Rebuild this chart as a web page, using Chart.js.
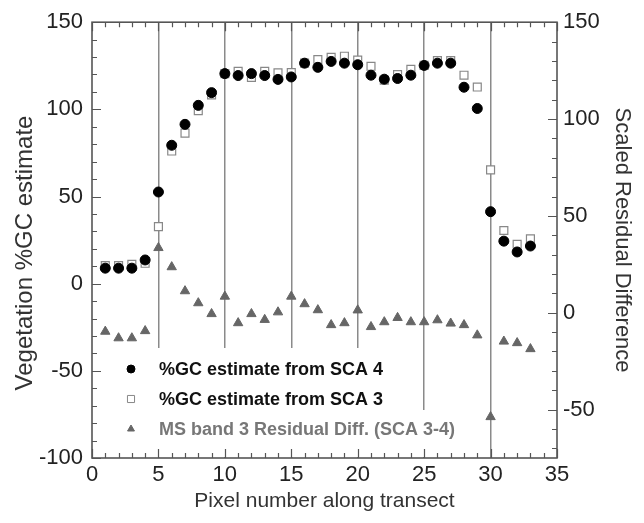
<!DOCTYPE html>
<html>
<head>
<meta charset="utf-8">
<script src="https://cdn.jsdelivr.net/npm/chart.js@4.4.1/dist/chart.umd.min.js"></script>
<style>
  html, body { margin:0; padding:0; background:#fff; }
  canvas { display:block; }
</style>
</head>
<body>
<canvas id="chart" width="644" height="523"></canvas>
<script>
// ─── Data ────────────────────────────────────────────────────────────────────
const pixelNo = [1,2,3,4,5,6,7,8,9,10,11,12,13,14,15,16,17,18,19,20,21,22,23,24,25,26,27,28,29,30,31,32,33];

// %GC estimate from SCA 4 (filled circles, left axis)
const gcSca4 = [8.9, 8.9, 8.9, 13.6, 52.6, 79.4, 91.4, 102.3, 109.6, 120.5, 119.4, 120.5, 119.4, 117.2, 118.6,
                126.5, 124.1, 127.5, 126.5, 125.6, 119.6, 117.3, 117.7, 119.6, 125.2, 126.5, 126.5, 112.7, 100.5,
                41.3, 24.4, 18.2, 21.6];

// %GC estimate from SCA 3 (open squares, left axis)
const gcSca3 = [10.4, 10.4, 11.1, 11.7, 32.7, 76.1, 86.4, 99.3, 108.3, 120.5, 121.8, 118.3, 121.8, 120.9, 121.1,
                126.5, 128.6, 129.9, 130.5, 128.3, 124.7, 116.8, 120.0, 123.0, 125.2, 128.0, 128.0, 119.6, 112.8,
                65.3, 30.5, 22.6, 25.7];

// MS band 3 residual difference (grey triangles, right axis)
const residDiff = [-9.7, -13.1, -13.1, -9.4, 33.5, 23.6, 11.2, 5.0, -0.6, 8.4, -5.3, -0.6, -3.6, 0.3, 8.4,
                   4.5, 1.4, -6.3, -5.3, 1.3, -7.3, -4.8, -2.6, -4.8, -4.8, -3.8, -5.5, -6.3, -11.6,
                   -53.8, -14.8, -15.6, -18.7];

const legendLabels = ['%GC estimate from SCA 4', '%GC estimate from SCA 3', 'MS band 3 Residual Diff. (SCA 3-4)'];
const leftTitle = 'Vegetation %GC estimate';

const FONT_FAMILY = '"Liberation Sans", Arial, Helvetica, sans-serif';
const AXIS_CLR = '#555';
const TICK_TXT = '#222';

const pts = (ys) => ys.map((y, i) => ({ x: pixelNo[i], y }));

// ─── Legend, inward ticks and frame ─────────────────────────────────────────
const decorPlugin = {
  id: 'decor',
  afterDatasetsDraw(chart) {
    const ctx = chart.ctx;
    // opaque legend background (hides the vertical lines behind the text)
    ctx.save();
    ctx.fillStyle = '#fff';
    ctx.fillRect(100, 348, 298, 109);
    ctx.fillRect(100, 410, 362, 47);

    const rows = [
      { y: 369, style: 'circle',   fill: '#000', stroke: '#000', txt: '#111' },
      { y: 399, style: 'rect',     fill: '#fff', stroke: '#888', txt: '#111' },
      { y: 429, style: 'triangle', fill: '#666', stroke: '#666', txt: '#777' },
    ];
    ctx.font = 'bold 18px ' + FONT_FAMILY;
    ctx.textBaseline = 'middle';
    ctx.textAlign = 'left';
    rows.forEach((r, i) => {
      ctx.fillStyle = r.fill;
      ctx.strokeStyle = r.stroke;
      ctx.lineWidth = 1;
      Chart.helpers.drawPoint(ctx, { pointStyle: r.style, radius: r.style === 'rect' ? 5 : 4, rotation: 0, borderWidth: 1 }, 131, r.y);
      ctx.fillStyle = r.txt;
      ctx.fillText(legendLabels[i], 159, r.y + 1);
    });
    ctx.restore();
  },
  afterDraw(chart) {
    const { ctx, chartArea: a, scales } = chart;
    ctx.save();
    ctx.strokeStyle = AXIS_CLR;
    ctx.lineWidth = 1.2;
    ctx.beginPath();
    // x ticks, bottom and top
    for (let v = 0; v <= 35; v++) {
      const px = Math.round(scales.x.getPixelForValue(v)) + 0.5;
      const len = v % 5 === 0 ? 9 : 5;
      ctx.moveTo(px, a.bottom); ctx.lineTo(px, a.bottom - len);
      ctx.moveTo(px, a.top);    ctx.lineTo(px, a.top + len);
    }
    // left y ticks
    for (let v = -100; v <= 150; v += 10) {
      const py = Math.round(scales.y.getPixelForValue(v)) + 0.5;
      const len = v % 50 === 0 ? 9 : 5;
      ctx.moveTo(a.left, py); ctx.lineTo(a.left + len, py);
    }
    // right y ticks
    for (let v = -70; v <= 150; v += 10) {
      const py = Math.round(scales.y2.getPixelForValue(v)) + 0.5;
      const len = v % 50 === 0 ? 9 : 5;
      ctx.moveTo(a.right, py); ctx.lineTo(a.right - len, py);
    }
    ctx.stroke();
    ctx.lineWidth = 1.6;
    ctx.strokeRect(a.left, a.top, a.right - a.left, a.bottom - a.top);

    // left axis title (sits a little below the plot centre in the original)
    ctx.translate(25, 253);
    ctx.rotate(-Math.PI / 2);
    ctx.font = '24px ' + FONT_FAMILY;
    ctx.fillStyle = '#333';
    ctx.textAlign = 'center';
    ctx.textBaseline = 'middle';
    ctx.fillText(leftTitle, 0, 0);
    ctx.restore();
  }
};

new Chart(document.getElementById('chart'), {
  type: 'scatter',
  data: {
    datasets: [
      { label: legendLabels[0], data: pts(gcSca4), yAxisID: 'y',
        pointStyle: 'circle', pointRadius: 5, pointHoverRadius: 5,
        backgroundColor: '#000', borderColor: '#000', borderWidth: 1 },
      { label: legendLabels[1], data: pts(gcSca3), yAxisID: 'y',
        pointStyle: 'rect', pointRadius: 5.6, pointHoverRadius: 5.6,
        backgroundColor: '#fff', borderColor: '#888', borderWidth: 1.2 },
      { label: legendLabels[2], data: pts(residDiff), yAxisID: 'y2',
        pointStyle: 'triangle', pointRadius: 5.4, pointHoverRadius: 5.4,
        backgroundColor: '#666', borderColor: '#666', borderWidth: 1 },
    ]
  },
  options: {
    responsive: false,
    animation: false,
    layout: { padding: 0 },
    plugins: { legend: { display: false }, tooltip: { enabled: false } },
    scales: {
      x: {
        type: 'linear', position: 'bottom', min: 0, max: 35,
        afterFit: (s) => { s.height = 65; },
        border: { display: false },
        grid: {
          drawTicks: false,
          color: (c) => (c.tick && (c.tick.value === 0 || c.tick.value === 35)) ? 'rgba(0,0,0,0)' : '#8a8a8a',
          lineWidth: 1.5
        },
        ticks: { stepSize: 5, padding: 4, color: TICK_TXT, font: { family: FONT_FAMILY, size: 22 } },
        title: { display: true, text: 'Pixel number along transect', color: '#333',
                 font: { family: FONT_FAMILY, size: 21 }, padding: { top: 0, bottom: 9 } }
      },
      xTop: {
        type: 'linear', position: 'top', min: 0, max: 35,
        afterFit: (s) => { s.height = 16; },
        border: { display: false }, grid: { display: false }, ticks: { display: false }
      },
      y: {
        type: 'linear', position: 'left', min: -100, max: 150,
        afterFit: (s) => { s.width = 92; },
        border: { display: false },
        grid: { display: false, drawTicks: false },
        ticks: { stepSize: 50, padding: 9, color: TICK_TXT, font: { family: FONT_FAMILY, size: 22 } }
      },
      y2: {
        type: 'linear', position: 'right', min: -75, max: 150,
        afterFit: (s) => { s.width = 87; },
        afterBuildTicks: (s) => { s.ticks = s.ticks.filter(t => t.value % 50 === 0); },
        border: { display: false },
        grid: { display: false, drawTicks: false },
        ticks: { stepSize: 50, includeBounds: false, padding: 6, color: TICK_TXT,
                 font: { family: FONT_FAMILY, size: 22 } },
        title: { display: true, text: 'Scaled Residual Difference', color: '#333',
                 font: { family: FONT_FAMILY, size: 22 }, padding: { top: 9, bottom: 0 } }
      }
    }
  },
  plugins: [decorPlugin]
});
</script>
</body>
</html>
